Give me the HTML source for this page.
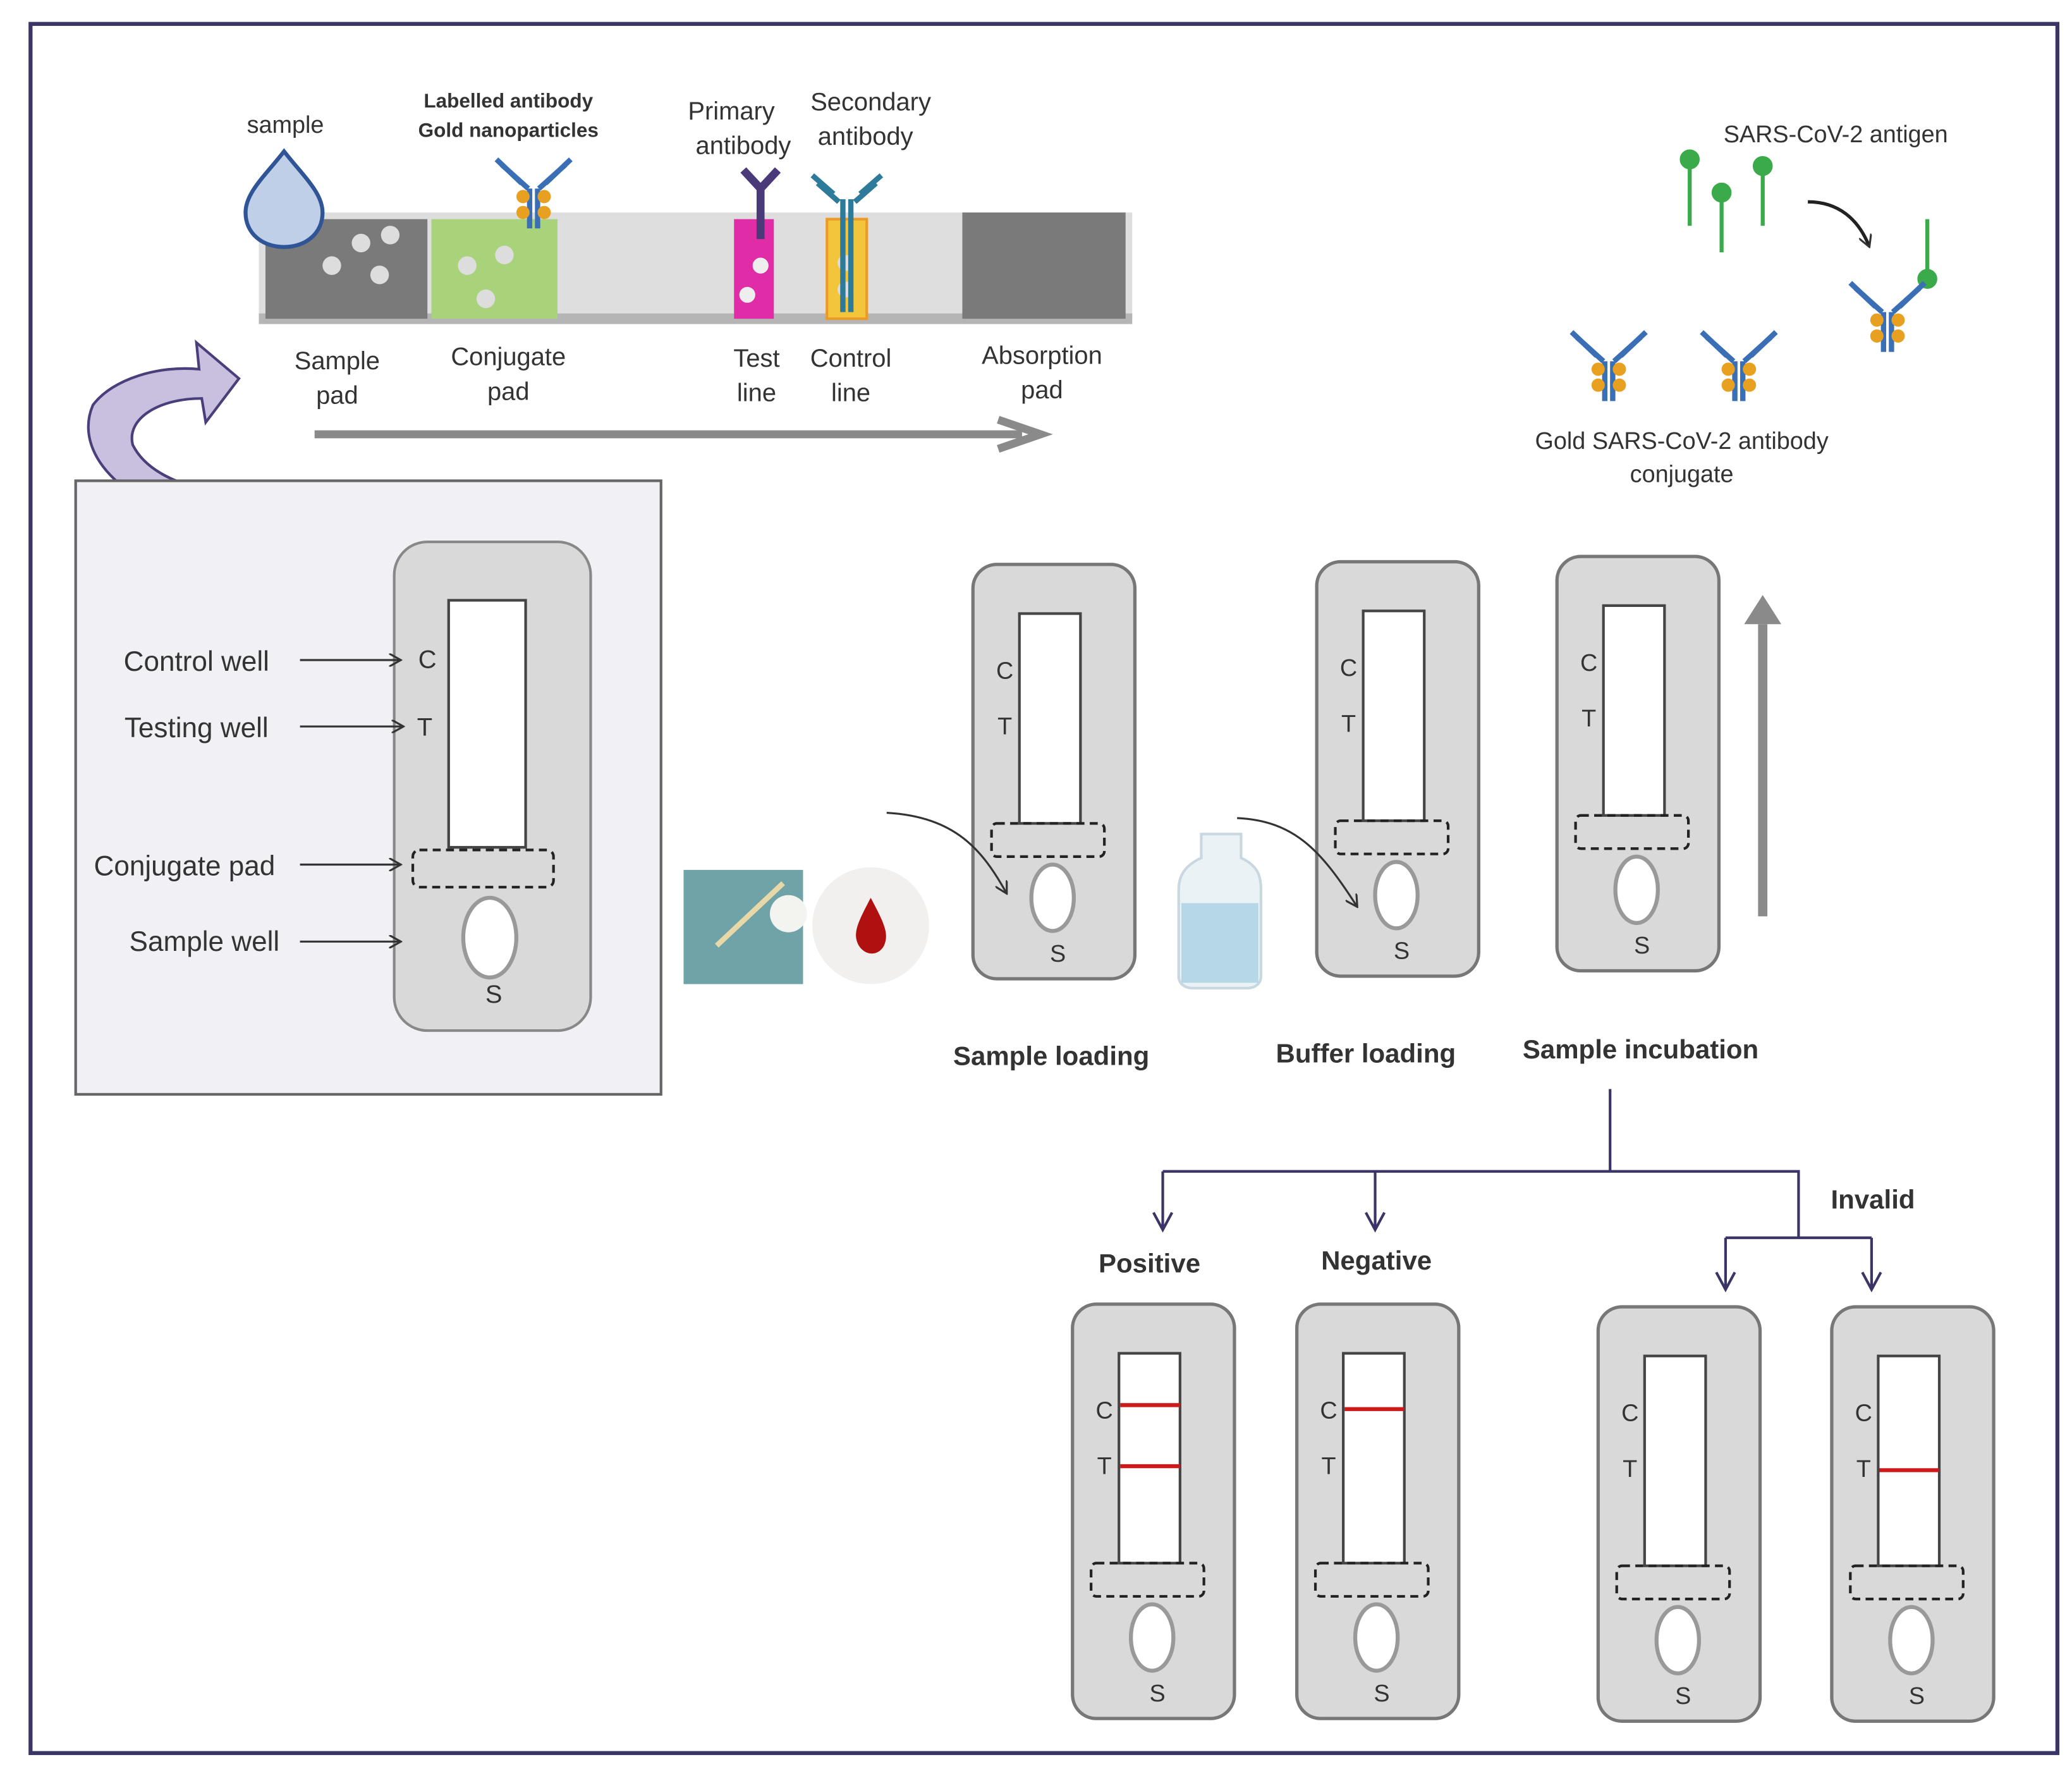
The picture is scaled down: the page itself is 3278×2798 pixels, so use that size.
<!DOCTYPE html>
<html><head><meta charset="utf-8"><style>
html,body{margin:0;padding:0;background:#fff;}
svg{display:block;}
text{font-family:"Liberation Sans",sans-serif;fill:#333;}
</style></head><body>
<svg width="3278" height="2798" viewBox="0 0 1561 1332" preserveAspectRatio="none" xmlns="http://www.w3.org/2000/svg">
<defs>
<marker id="ah" markerWidth="10" markerHeight="10" refX="8" refY="5" orient="auto" markerUnits="userSpaceOnUse"><path d="M0,0 L9,5 L0,10" fill="none" stroke="#333" stroke-width="1.5"/></marker>
<marker id="ahp" markerWidth="16" markerHeight="16" refX="13" refY="8" orient="auto" markerUnits="userSpaceOnUse"><path d="M1,1 L14,8 L1,15" fill="none" stroke="#3b3566" stroke-width="2"/></marker>
<g id="ab">
<path d="M-3,0 V30 M3,0 V30" stroke="#3a6fb5" stroke-width="4"/>
<path d="M-4,0 L-24,-18 M-9,-4 L-28,-22 M4,0 L24,-18 M9,-4 L28,-22" stroke="#3a6fb5" stroke-width="4"/>
<circle cx="-8" cy="6" r="5" fill="#e8a020"/><circle cx="8" cy="6" r="5" fill="#e8a020"/>
<circle cx="-8" cy="18" r="5" fill="#e8a020"/><circle cx="8" cy="18" r="5" fill="#e8a020"/>
</g>
</defs>
<rect x="0" y="0" width="1561" height="1332" fill="#fff"/>
<rect x="23" y="18" width="1527" height="1302" fill="none" stroke="#3b3566" stroke-width="3"/>

<!-- strip -->
<rect x="195" y="160" width="658" height="80" fill="#dedede"/>
<rect x="195" y="236" width="658" height="8" fill="#b5b5b5"/>
<rect x="200" y="165" width="122" height="75" fill="#7a7a7a"/>
<circle cx="250" cy="200" r="7" fill="#ddd"/><circle cx="272" cy="183" r="7" fill="#ddd"/><circle cx="294" cy="177" r="7" fill="#ddd"/><circle cx="286" cy="207" r="7" fill="#ddd"/>
<rect x="325" y="165" width="95" height="75" fill="#a9d37a"/>
<circle cx="352" cy="200" r="7" fill="#ddd"/><circle cx="380" cy="192" r="7" fill="#ddd"/><circle cx="366" cy="225" r="7" fill="#ddd"/>
<rect x="553" y="165" width="30" height="75" fill="#e02ca6"/>
<circle cx="573" cy="200" r="6" fill="#eee"/><circle cx="563" cy="222" r="6" fill="#eee"/>
<rect x="623" y="165" width="30" height="75" fill="#f3c53a" stroke="#eb9a2a" stroke-width="2"/>
<circle cx="637" cy="198" r="6" fill="#ddd"/><circle cx="637" cy="218" r="6" fill="#ddd"/>
<rect x="725" y="160" width="123" height="80" fill="#7a7a7a"/>
<path d="M214,114 C228,132 243,145 243,160 C243,176 230,186 214,186 C198,186 185,176 185,160 C185,145 200,132 214,114 Z" fill="#bfcfe8" stroke="#2f5597" stroke-width="3"/>
<use href="#ab" x="402" y="142"/>
<g stroke="#4a3a7a" stroke-width="6"><path d="M573,140 V180 M573,142 L560,128 M573,142 L586,128"/></g>
<g stroke="#2e7a9a" stroke-width="4"><path d="M635,150 V235 M641,150 V235 M632,152 L616,138 M644,152 L660,138 M628,146 L612,132 M648,146 L664,132"/></g>
<text x="215" y="100" font-size="18" text-anchor="middle">sample</text>
<text x="383" y="81" font-size="15" font-weight="bold" text-anchor="middle">Labelled antibody</text>
<text x="383" y="103" font-size="15" font-weight="bold" text-anchor="middle">Gold nanoparticles</text>
<text x="551" y="90" font-size="19" text-anchor="middle">Primary</text>
<text x="560" y="116" font-size="19" text-anchor="middle">antibody</text>
<text x="656" y="83" font-size="19" text-anchor="middle">Secondary</text>
<text x="652" y="109" font-size="19" text-anchor="middle">antibody</text>
<g font-size="19" text-anchor="middle">
<text x="254" y="278">Sample</text><text x="254" y="304">pad</text>
<text x="383" y="275">Conjugate</text><text x="383" y="301">pad</text>
<text x="570" y="276">Test</text><text x="570" y="302">line</text>
<text x="641" y="276">Control</text><text x="641" y="302">line</text>
<text x="785" y="274">Absorption</text><text x="785" y="300">pad</text>
</g>
<path d="M237,327 H770" stroke="#8a8a8a" stroke-width="6"/>
<path d="M752,316 L784,327 L752,338" fill="none" stroke="#8a8a8a" stroke-width="6"/>

<!-- curved arrow -->
<path d="M160,397 C90,380 55,340 70,305 C85,285 120,275 150,278 L148,258 L180,285 L155,318 L152,300 C120,300 95,315 100,335 C110,355 135,365 160,370 Z" fill="#c9c0e0" stroke="#4a3f7a" stroke-width="2"/>

<!-- SARS antigen area -->
<text x="1383" y="107" font-size="18" text-anchor="middle">SARS-CoV-2 antigen</text>
<g stroke="#3aaa4a" stroke-width="3" fill="#3aaa4a">
<path d="M1273,122 V170"/><circle cx="1273" cy="120" r="6"/>
<path d="M1297,147 V190"/><circle cx="1297" cy="145" r="6"/>
<path d="M1328,127 V170"/><circle cx="1328" cy="125" r="6"/>
<path d="M1452,165 V208"/><circle cx="1452" cy="210" r="6"/>
</g>
<path d="M1362,152 C1385,152 1400,165 1408,185" fill="none" stroke="#222" stroke-width="2.5" marker-end="url(#ah)"/>
<use href="#ab" x="1422" y="235"/>
<use href="#ab" x="1212" y="272"/>
<use href="#ab" x="1310" y="272"/>
<text x="1267" y="338" font-size="18" text-anchor="middle">Gold SARS-CoV-2 antibody</text>
<text x="1267" y="363" font-size="18" text-anchor="middle">conjugate</text>

<!-- left box -->
<rect x="57" y="362" width="441" height="462" fill="#f1f0f5" stroke="#666" stroke-width="2"/>
<rect x="297" y="408" width="148" height="368" rx="25" fill="#d9d9d9" stroke="#888" stroke-width="2"/>
<rect x="338" y="452" width="58" height="186" fill="#fff" stroke="#444" stroke-width="2"/>
<rect x="311" y="640" width="106" height="28" rx="5" fill="none" stroke="#222" stroke-width="2" stroke-dasharray="6,4"/>
<ellipse cx="369" cy="706" rx="20" ry="30" fill="#fff" stroke="#999" stroke-width="3"/>
<text x="372" y="755" font-size="19" text-anchor="middle">S</text>
<text x="322" y="503" font-size="19" text-anchor="middle">C</text>
<text x="320" y="554" font-size="19" text-anchor="middle">T</text>
<g font-size="21" text-anchor="middle">
<text x="148" y="505">Control well</text>
<text x="148" y="555">Testing well</text>
<text x="139" y="659">Conjugate pad</text>
<text x="154" y="716">Sample well</text>
</g>
<g stroke="#333" stroke-width="1.5" marker-end="url(#ah)">
<path d="M226,497 H301"/><path d="M226,547 H303"/><path d="M226,651 H301"/><path d="M226,709 H301"/>
</g>

<!-- swab/blood/bottle -->
<rect x="515" y="655" width="90" height="86" fill="#6fa3a8"/>
<path d="M540,712 L590,665" stroke="#e8d8a8" stroke-width="4"/>
<circle cx="594" cy="688" r="14" fill="#f3f3f0"/>
<circle cx="656" cy="697" r="44" fill="#f2f0ef"/>
<path d="M656,676 C646,695 642,703 647,712 C652,720 662,720 666,712 C670,703 666,695 656,676 Z" fill="#b01010"/>
<path d="M905,628 H935 V646 C948,652 950,660 950,670 V735 C950,741 945,744 940,744 H898 C893,744 888,741 888,735 V670 C888,660 892,652 905,646 Z" fill="#eaf2f6" stroke="#c9d8e0" stroke-width="2"/>
<rect x="890" y="680" width="58" height="60" fill="#b6d8e6"/>

<!-- middle cassettes -->
<g id="c1">
<rect x="733" y="425" width="122" height="312" rx="18" fill="#d9d9d9" stroke="#777" stroke-width="2.5"/>
<rect x="768" y="462" width="46" height="158" fill="#fff" stroke="#444" stroke-width="2"/>
<rect x="747" y="620" width="85" height="25" rx="4" fill="none" stroke="#222" stroke-width="2" stroke-dasharray="6,4"/>
<ellipse cx="793" cy="676" rx="16" ry="25" fill="#fff" stroke="#999" stroke-width="3"/>
<text x="757" y="511" font-size="18" text-anchor="middle">C</text>
<text x="757" y="553" font-size="18" text-anchor="middle">T</text>
<text x="797" y="724" font-size="18" text-anchor="middle">S</text>
</g>
<use href="#c1" x="259" y="-2"/>
<use href="#c1" x="440" y="-6"/>
<path d="M668,612 C720,615 740,640 758,672" fill="none" stroke="#333" stroke-width="1.5" marker-end="url(#ah)"/>
<path d="M932,616 C975,618 995,640 1022,682" fill="none" stroke="#333" stroke-width="1.5" marker-end="url(#ah)"/>
<path d="M1328,690 V470" stroke="#8a8a8a" stroke-width="7"/>
<path d="M1314,470 L1328,448 L1342,470 Z" fill="#8a8a8a"/>
<g font-size="20" font-weight="bold" text-anchor="middle">
<text x="792" y="802">Sample loading</text>
<text x="1029" y="800">Buffer loading</text>
<text x="1236" y="797">Sample incubation</text>
<text x="866" y="958">Positive</text>
<text x="1037" y="956">Negative</text>
<text x="1411" y="910">Invalid</text>
</g>

<!-- flow -->
<g fill="none" stroke="#3b3566" stroke-width="2">
<path d="M1213,820 V882 M876,882 H1355 V932 M1300,932 H1410"/>
<path d="M876,882 V925" marker-end="url(#ahp)"/>
<path d="M1036,882 V925" marker-end="url(#ahp)"/>
<path d="M1300,932 V970" marker-end="url(#ahp)"/>
<path d="M1410,932 V970" marker-end="url(#ahp)"/>
</g>

<!-- result cassettes -->
<use href="#c1" x="75" y="557"/>
<use href="#c1" x="244" y="557"/>
<use href="#c1" x="471" y="559"/>
<use href="#c1" x="647" y="559"/>
<g stroke="#cc1a1a" stroke-width="3">
<path d="M844,1058 H889 M844,1104 H889 M1013,1061 H1058 M1416,1107 H1461"/>
</g>
</svg>
</body></html>
